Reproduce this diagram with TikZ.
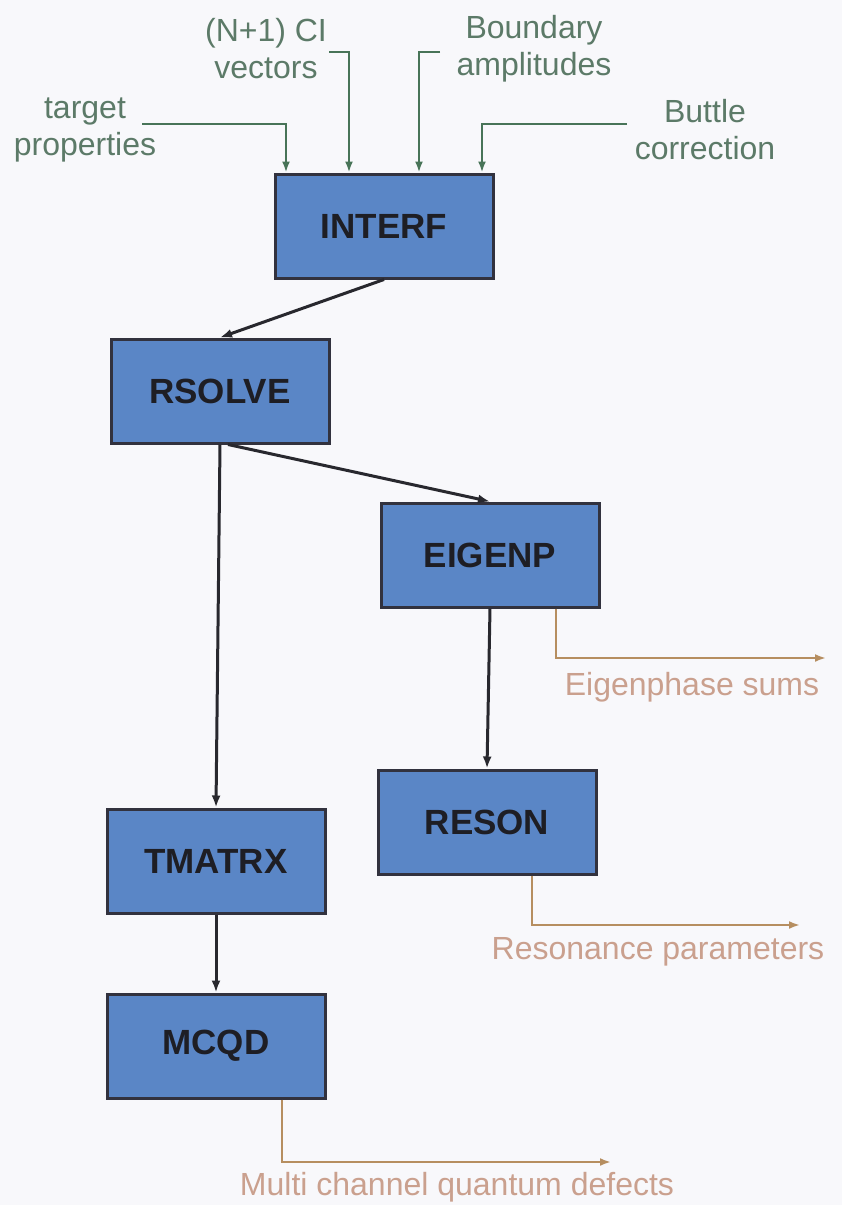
\documentclass[tikz,border=0pt]{standalone}
\usepackage{fontspec}
\setmainfont{Liberation Sans}
\usetikzlibrary{arrows.meta}
\definecolor{pagebg}{RGB}{248,248,251}
\definecolor{boxfill}{RGB}{90,134,198}
\definecolor{boxline}{RGB}{50,50,62}
\definecolor{boxtext}{RGB}{30,30,36}
\definecolor{flowline}{RGB}{40,40,46}
\definecolor{ingreen}{RGB}{92,122,104}
\definecolor{feedgreen}{RGB}{72,116,88}
\definecolor{outtan}{RGB}{202,160,142}
\definecolor{resultline}{RGB}{182,142,96}

\begin{document}
\begin{tikzpicture}[
		x=1pt,y=-1pt,
		prog/.style={rectangle,draw=boxline,line width=3pt,fill=boxfill,minimum width=218pt,minimum height=104pt,text=boxtext,font=\fontsize{35}{40}\selectfont\bfseries},
		inlabel/.style={align=center,text=ingreen,font=\fontsize{32}{37}\selectfont},
		outlabel/.style={text=outtan,font=\fontsize{32}{37}\selectfont},
		flow/.style={draw=flowline,line width=3pt,-{Latex[length=12pt,width=9pt]}},
		feed/.style={draw=feedgreen,line width=2.6pt,-{Latex[length=11pt,width=8pt]}},
		result/.style={draw=resultline,line width=2.6pt,-{Latex[length=11pt,width=8pt]}}
		]
		\fill[pagebg] (0,0) rectangle (842,1205);
		\useasboundingbox (0,0) rectangle (842,1205);

		\node[prog] (interf) at (384,226) {INTERF};
		\node[prog] (rsolve) at (220,391) {RSOLVE};
		\node[prog] (eigenp) at (490,555) {EIGENP};
		\node[prog] (reson) at (487,822) {RESON};
		\node[prog] (tmatrx) at (216,861) {TMATRX};
		\node[prog] (mcqd) at (216,1046) {MCQD};

		\node[inlabel] (target) at (85,130) {target\\properties};
		\node[inlabel] (civec) at (266,49) {(N+1) CI\\vectors};
		\node[inlabel] (bamp) at (534,49) {Boundary\\amplitudes};
		\node[inlabel] (buttle) at (705,130) {Buttle\\correction};

		\node[outlabel] (eigsum) at (692,687) {Eigenphase sums};
		\node[outlabel] (respar) at (658,952) {Resonance parameters};
		\node[outlabel] (qdef) at (457,1187) {Multi channel quantum defects};

		\coordinate (targetend) at (142,124);
		\coordinate (civecend) at (329,52);
		\coordinate (bampend) at (440,52);
		\coordinate (buttleend) at (627,124);

		\draw[feed] (targetend) -| ([xshift=-98pt]interf.north);
		\draw[feed] (civecend) -| ([xshift=-35pt]interf.north);
		\draw[feed] (bampend) -| ([xshift=35pt]interf.north);
		\draw[feed] (buttleend) -| ([xshift=98pt]interf.north);

		\draw[flow] (interf.south) -- (rsolve.north);
		\draw[flow] ([xshift=8pt]rsolve.south) -- (eigenp.north);
		\draw[flow] (rsolve.south) -- (tmatrx.north);
		\draw[flow] (eigenp.south) -- (reson.north);
		\draw[flow] (tmatrx.south) -- (mcqd.north);

		\coordinate (eigsumend) at (826,658);
		\coordinate (resparend) at (800,925);
		\coordinate (qdefend) at (611,1162);

		\draw[result] ([xshift=66pt]eigenp.south) |- (eigsumend);
		\draw[result] ([xshift=45pt]reson.south) |- (resparend);
		\draw[result] ([xshift=66pt]mcqd.south) |- (qdefend);
	\end{tikzpicture}
\end{document}
